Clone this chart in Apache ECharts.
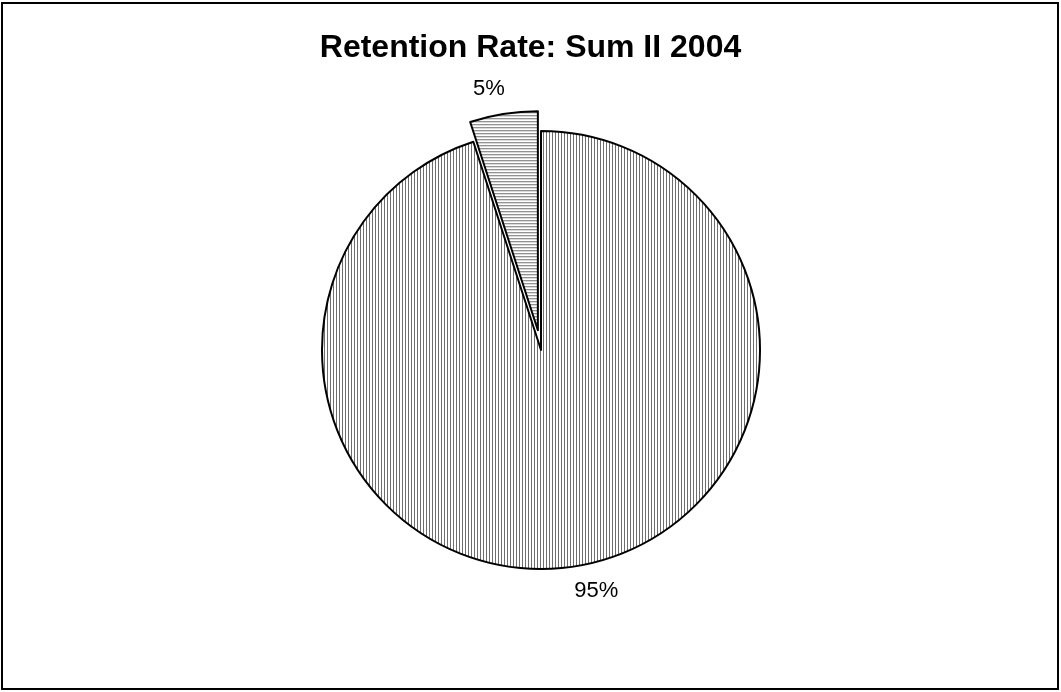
<!DOCTYPE html>
<html>
<head>
<meta charset="utf-8">
<script src="https://cdn.jsdelivr.net/npm/echarts@6/dist/echarts.min.js"></script>
<style>
  html, body { margin: 0; padding: 0; background: #fff; }
  #chart { width: 1061px; height: 692px; }
</style>
</head>
<body>
<div id="chart"></div>
<script>
var categories = ['Retained', 'Not retained'];
var values = [95, 5];
var labels = ['95%', '5%'];

// striped fills like the old Excel patterns
function stripes(vertical) {
  var c = document.createElement('canvas');
  c.width = 3;
  c.height = 3;
  var ctx = c.getContext('2d');
  ctx.fillStyle = '#fff';
  ctx.fillRect(0, 0, 3, 3);
  ctx.fillStyle = '#6e6e6e';
  if (vertical) ctx.fillRect(0, 0, 1, 3);
  else ctx.fillRect(0, 0, 3, 1);
  return { image: c, repeat: 'repeat' };
}

var fills = [stripes(true), stripes(false)];

var myChart = echarts.init(document.getElementById('chart'));

var option = {
  animation: false,
  backgroundColor: '#fff',
  title: {
    text: 'Retention Rate: Sum II 2004',
    left: 'center',
    top: 27,
    textStyle: {
      fontFamily: 'Liberation Sans, Arial',
      fontWeight: 'bold',
      fontSize: 32,
      color: '#000'
    }
  },
  graphic: [{
    type: 'rect',
    shape: { x: 2, y: 3, width: 1056, height: 686 },
    style: { fill: null, stroke: '#000', lineWidth: 2 },
    silent: true
  }],
  series: [{
    type: 'pie',
    center: [541, 350],
    radius: 219,
    startAngle: 90,
    clockwise: true,
    selectedMode: 'single',
    selectedOffset: 20,
    label: {
      position: 'outside',
      fontFamily: 'Liberation Sans, Arial',
      fontSize: 22,
      color: '#000',
      distanceToLabelLine: -5
    },
    labelLine: { show: false, length: 25, length2: 0 },
    emphasis: { disabled: true },
    data: values.map(function (v, i) {
      var style = { color: fills[i], borderColor: '#000', borderWidth: 2 };
      return {
        name: categories[i],
        value: v,
        selected: i === 1,
        itemStyle: style,
        select: { itemStyle: style },
        label: { formatter: labels[i] }
      };
    })
  }]
};
myChart.setOption(option);
</script>
</body>
</html>
